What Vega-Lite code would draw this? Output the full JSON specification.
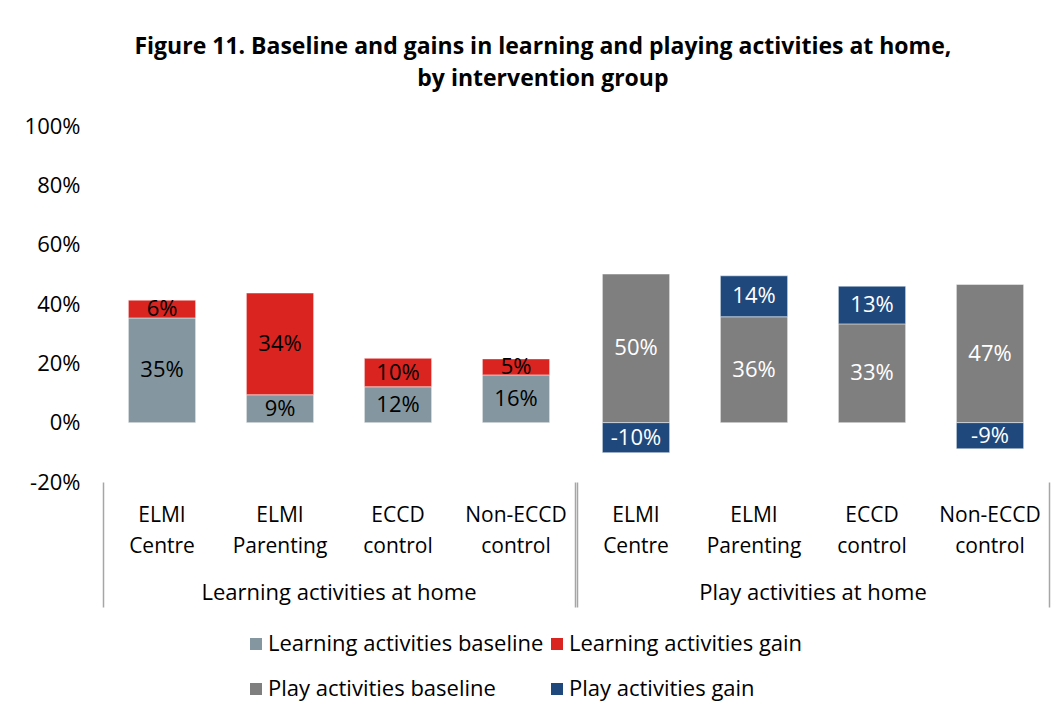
{
  "$schema": "https://vega.github.io/schema/vega-lite/v6.json",
  "padding": {"left": 24, "top": 36, "right": 5, "bottom": 5},
  "background": "white",
  "data": {
    "values": [
      {"group": "Learning activities at home", "category": "ELMI Centre", "series": "Learning activities baseline", "ord": 1, "value": 0.353},
      {"group": "Learning activities at home", "category": "ELMI Centre", "series": "Learning activities gain", "ord": 2, "value": 0.06},
      {"group": "Learning activities at home", "category": "ELMI Parenting", "series": "Learning activities baseline", "ord": 1, "value": 0.094},
      {"group": "Learning activities at home", "category": "ELMI Parenting", "series": "Learning activities gain", "ord": 2, "value": 0.343},
      {"group": "Learning activities at home", "category": "ECCD control", "series": "Learning activities baseline", "ord": 1, "value": 0.121},
      {"group": "Learning activities at home", "category": "ECCD control", "series": "Learning activities gain", "ord": 2, "value": 0.096},
      {"group": "Learning activities at home", "category": "Non-ECCD control", "series": "Learning activities baseline", "ord": 1, "value": 0.161},
      {"group": "Learning activities at home", "category": "Non-ECCD control", "series": "Learning activities gain", "ord": 2, "value": 0.054},
      {"group": "Play activities at home", "category": "ELMI Centre", "series": "Play activities baseline", "ord": 1, "value": 0.501},
      {"group": "Play activities at home", "category": "ELMI Centre", "series": "Play activities gain", "ord": 2, "value": -0.101},
      {"group": "Play activities at home", "category": "ELMI Parenting", "series": "Play activities baseline", "ord": 1, "value": 0.357},
      {"group": "Play activities at home", "category": "ELMI Parenting", "series": "Play activities gain", "ord": 2, "value": 0.138},
      {"group": "Play activities at home", "category": "ECCD control", "series": "Play activities baseline", "ord": 1, "value": 0.333},
      {"group": "Play activities at home", "category": "ECCD control", "series": "Play activities gain", "ord": 2, "value": 0.127},
      {"group": "Play activities at home", "category": "Non-ECCD control", "series": "Play activities baseline", "ord": 1, "value": 0.466},
      {"group": "Play activities at home", "category": "Non-ECCD control", "series": "Play activities gain", "ord": 2, "value": -0.088}
    ]
  },
  "title": {
    "text": ["Figure 11. Baseline and gains in learning and playing activities at home,", "by intervention group"],
    "font": "Open Sans",
    "fontSize": 23,
    "fontWeight": "bold",
    "color": "black",
    "lineHeight": 32,
    "anchor": "middle",
    "frame": "bounds",
    "offset": 24,
    "dx": 6
  },
  "facet": {
    "column": {
      "field": "group",
      "type": "nominal",
      "header": {
        "title": null,
        "labelOrient": "bottom",
        "labelFont": "Open Sans",
        "labelFontSize": 22,
        "labelColor": "black",
        "labelPadding": -25
      }
    }
  },
  "spacing": 0,
  "resolve": {"scale": {"x": "independent"}},
  "spec": {
    "width": 472,
    "height": 356,
    "encoding": {
      "x": {
        "field": "category",
        "type": "nominal",
        "sort": ["ELMI Centre", "ELMI Parenting", "ECCD control", "Non-ECCD control"],
        "scale": {"paddingInner": 0, "paddingOuter": 0},
        "axis": {
          "title": null,
          "labelAngle": 0,
          "labelExpr": "split(datum.label, ' ')",
          "labelFont": "Open Sans",
          "labelFontSize": 21,
          "labelColor": "black",
          "labelLineHeight": 31,
          "labelPadding": -103,
          "labelBaseline": "top",
          "labelLimit": 200,
          "domain": false,
          "bandPosition": 1,
          "tickExtra": true,
          "tickSize": 125,
          "tickWidth": 1.5,
          "tickColor": "#A6A6A6",
          "tickOpacity": {"condition": {"test": "datum.value == 'Non-ECCD control' || datum.extra", "value": 1}, "value": 0}
        }
      }
    },
    "layer": [
      {
        "mark": {"type": "bar", "width": {"band": 0.57}, "stroke": "white", "strokeWidth": 0.8, "strokeOpacity": 0.6},
        "encoding": {
          "y": {
            "field": "value",
            "type": "quantitative",
            "stack": "zero",
            "scale": {"domain": [-0.2, 1], "nice": false},
            "axis": {
              "title": null,
              "values": [-0.2, 0, 0.2, 0.4, 0.6, 0.8, 1.0],
              "format": ".0%",
              "labelFont": "Open Sans",
              "labelFontSize": 22,
              "labelColor": "black",
              "labelPadding": 22,
              "ticks": false,
              "domain": false,
              "grid": false
            }
          },
          "color": {
            "field": "series",
            "type": "nominal",
            "scale": {
              "domain": ["Learning activities baseline", "Learning activities gain", "Play activities baseline", "Play activities gain"],
              "range": ["#8497A0", "#DA2420", "#7F7F7F", "#1F497D"]
            },
            "legend": {
              "title": null,
              "orient": "none",
              "direction": "horizontal",
              "legendX": 142,
              "legendY": 507,
              "columns": 2,
              "symbolType": "square",
              "symbolSize": 144,
              "symbolStrokeWidth": 0,
              "labelFont": "Open Sans",
              "labelFontSize": 22,
              "labelColor": "black",
              "labelLimit": 400,
              "rowPadding": 23,
              "columnPadding": 2,
              "labelOffset": 1
            }
          },
          "order": {"field": "ord", "type": "quantitative"}
        }
      },
      {
        "mark": {"type": "rule", "color": "#868686", "strokeWidth": 2},
        "encoding": {"y": {"datum": 0, "type": "quantitative"}}
      },
      {
        "mark": {"type": "text", "font": "Open Sans", "fontSize": 22},
        "encoding": {
          "y": {"field": "value", "type": "quantitative", "stack": "zero", "bandPosition": 0.5},
          "detail": {"field": "series"},
          "order": {"field": "ord", "type": "quantitative"},
          "text": {"field": "value", "type": "quantitative", "format": ".0%"},
          "color": {
            "condition": {"test": "datum.group == 'Learning activities at home'", "value": "black"},
            "value": "white"
          }
        }
      }
    ]
  },
  "config": {
    "view": {"stroke": null},
    "locale": {
      "number": {"decimal": ".", "thousands": ",", "grouping": [3], "currency": ["$", ""], "minus": "-"}
    }
  }
}
